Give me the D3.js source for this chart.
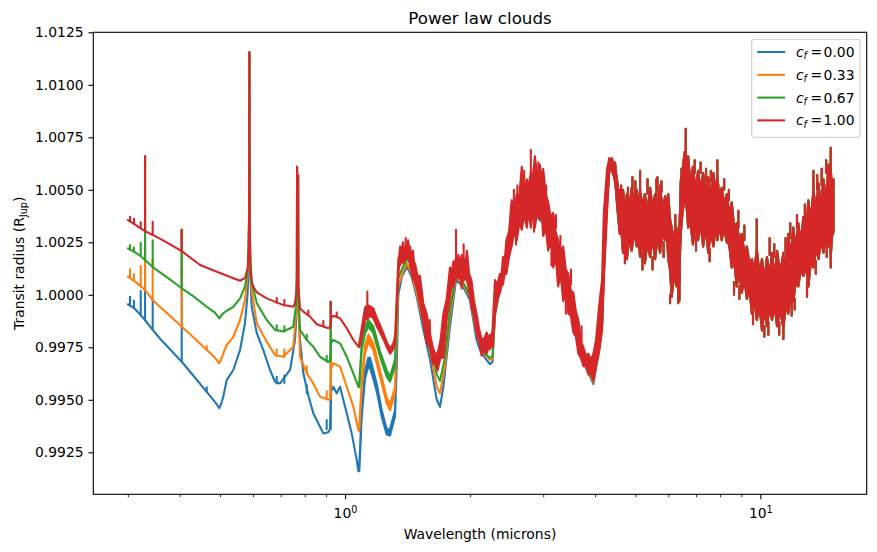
<!DOCTYPE html>
<html>
<head>
<meta charset="utf-8">
<script src="https://cdn.jsdelivr.net/npm/d3@7"></script>
<style>
  body { margin: 0; background: white; }
  text { font-family: "DejaVu Sans", sans-serif; }
</style>
</head>
<body>
<div id="chart"></div>
<script>
// Each point: [wavelength (microns), transit radius (R_Jup)]
// an optional third value is the top of the noisy band at that wavelength
const blueShort = [
  [0.300, 0.99955], [0.3100, 0.99938], [0.3200, 0.99910], [0.3300, 0.99880], [0.3443, 0.99833],
  [0.3600, 0.99787], [0.3800, 0.99738], [0.4044, 0.99681], [0.4300, 0.99618], [0.4645, 0.99538],
  [0.4863, 0.99490], [0.4982, 0.99460], [0.5030, 0.99480], [0.5093, 0.99515], [0.5189, 0.99594],
  [0.5383, 0.99642], [0.5588, 0.99737], [0.5742, 0.99864], [0.5829, 1.00007], [0.5860, 1.0015],
  [0.5875, 1.0035], [0.5880, 1.0060], [0.5885, 1.01155], [0.5890, 1.0060], [0.5895, 1.0030],
  [0.5915, 1.0010], [0.5960, 0.99943], [0.6131, 0.99817], [0.6357, 0.99737], [0.6598, 0.99642],
  [0.6783, 0.99586], [0.6975, 0.99578], [0.7374, 0.99642], [0.7578, 0.99785], [0.7640, 0.99900],
  [0.7658, 1.0005], [0.7665, 1.0061], [0.7672, 1.0005], [0.7703, 1.0002], [0.7710, 1.0057],
  [0.7717, 0.9998], [0.7791, 0.99785], [0.7937, 0.99626], [0.8160, 0.99520], [0.8387, 0.99436],
  [0.8705, 0.99372], [0.8867, 0.99340], [0.9115, 0.99345], [0.9200, 0.99360], [0.9260, 0.99540],
  [0.9371, 0.99562], [0.9550, 0.99531], [0.9727, 0.99562], [1.0095, 0.99436], [1.0378, 0.99340],
  [1.0670, 0.99213], [1.0767, 0.99160], [1.0825, 0.99160, 0.99200], [1.0970, 0.99420, 0.99450],
  [1.1172, 0.99600, 0.99640], [1.1380, 0.99660, 0.99700], [1.1487, 0.99650, 0.99700],
  [1.1698, 0.99600, 0.99640], [1.1922, 0.99540, 0.99575], [1.2257, 0.99420, 0.99450],
  [1.2600, 0.99335, 0.99360], [1.2834, 0.99330, 0.99360], [1.3194, 0.99420, 0.99450],
  [1.3319, 0.99658, 0.99700]
];
const blueMid = [
  [1.3437, 1.00000, 1.00030], [1.370, 1.00086], [1.409, 1.00134], [1.447, 1.00086], [1.488, 0.99991],
  [1.544, 0.99833], [1.602, 0.99690], [1.663, 0.99500], [1.693, 0.99467], [1.725, 0.99562],
  [1.789, 0.99848], [1.850, 1.00070], [1.923, 1.00039], [1.999, 0.99975], [2.073, 0.99785],
  [2.113, 0.99737], [2.172, 0.99700], [2.233, 0.99670], [2.265, 0.99680], [2.296, 0.99900],
  [2.360, 1.00030], [2.446, 1.00130], [2.518, 1.00280], [2.664, 1.00360], [2.865, 1.00380],
  [3.000, 1.00340], [3.171, 1.00200], [3.352, 1.00030], [3.546, 0.99870], [3.749, 0.99680],
  [3.854, 0.99630], [3.962, 0.99575], [4.074, 0.99720], [4.157, 0.99850], [4.198, 1.00100],
  [4.275, 1.00450]
];
const blueSpikes = [
  [0.3036, 0.99950, 0.99991], [0.3103, 0.99938, 0.99972], [0.3222, 0.99905, 1.00018],
  [0.3300, 0.99878, 1.0066], [0.3443, 0.99833, 0.99975], [0.4044, 0.99681, 1.0031],
  [0.4645, 0.99538, 0.99560], [0.6847, 0.99578, 0.99610], [0.7144, 0.99580, 0.99615],
  [0.8089, 0.99531, 0.99570], [0.9034, 0.99360, 0.99404], [0.9238, 0.99360, 0.99967]
];

const orangeShort = [
  [0.300, 1.00086], [0.3100, 1.00068], [0.3200, 1.00045], [0.3300, 1.00023], [0.3443, 0.99975],
  [0.3600, 0.99940], [0.3800, 0.99898], [0.4044, 0.99848], [0.4300, 0.99800], [0.4645, 0.99738],
  [0.4863, 0.99700], [0.4982, 0.99674], [0.5030, 0.99690], [0.5093, 0.99721], [0.5189, 0.99761],
  [0.5383, 0.99800], [0.5588, 0.99880], [0.5742, 0.99975], [0.5829, 1.00090], [0.5860, 1.0019],
  [0.5875, 1.0037], [0.5880, 1.0060], [0.5885, 1.01155], [0.5890, 1.0060], [0.5895, 1.0033],
  [0.5915, 1.0014], [0.5960, 1.00020], [0.6131, 0.99864], [0.6478, 0.99777], [0.6783, 0.99713],
  [0.7104, 0.99705], [0.7507, 0.99753], [0.7578, 0.99848], [0.7640, 0.99930], [0.7658, 1.0007],
  [0.7665, 1.0061], [0.7672, 1.0007], [0.7703, 1.0004], [0.7710, 1.0057], [0.7717, 1.0000],
  [0.7791, 0.99705], [0.8089, 0.99626], [0.8387, 0.99578], [0.8705, 0.99515], [0.9115, 0.99500],
  [0.9200, 0.99505], [0.9260, 0.99650], [0.9371, 0.99674], [0.9727, 0.99658], [1.0095, 0.99562],
  [1.0471, 0.99467], [1.0767, 0.99356], [1.0825, 0.99350, 0.99380], [1.0970, 0.99562, 0.99590],
  [1.1172, 0.99721, 0.99760], [1.1380, 0.99775, 0.99810], [1.1698, 0.99737, 0.99770],
  [1.2142, 0.99610, 0.99640], [1.2600, 0.99483, 0.99510], [1.2834, 0.99451, 0.99480],
  [1.3194, 0.99531, 0.99560], [1.3319, 0.99800, 0.99840]
];
const orangeMid = [
  [1.3437, 1.00040], [1.379, 1.00110], [1.409, 1.00150], [1.447, 1.00100], [1.488, 1.00007],
  [1.544, 0.99864], [1.602, 0.99737], [1.663, 0.99562], [1.693, 0.99531], [1.740, 0.99658],
  [1.789, 0.99896], [1.850, 1.00086], [1.923, 1.00050], [1.999, 0.99991], [2.073, 0.99817],
  [2.113, 0.99760], [2.172, 0.99715], [2.233, 0.99690], [2.265, 0.99695], [2.296, 0.99910],
  [2.360, 1.00035], [2.446, 1.00135], [2.518, 1.00285], [2.664, 1.00365], [2.865, 1.00385],
  [3.000, 1.00345], [3.171, 1.00205], [3.352, 1.00035], [3.546, 0.99875], [3.749, 0.99685],
  [3.854, 0.99635], [3.962, 0.99585], [4.074, 0.99725], [4.157, 0.99855], [4.198, 1.00105],
  [4.275, 1.00450]
];
const orangeSpikes = [
  [0.3036, 1.00080, 1.00121], [0.3103, 1.00068, 1.00098], [0.3222, 1.00045, 1.00137],
  [0.3300, 1.00023, 1.0066], [0.3443, 0.99975, 1.0017], [0.4044, 0.99848, 1.0031],
  [0.4645, 0.99738, 0.99755], [0.6847, 0.99710, 0.99740], [0.7144, 0.99705, 0.99740],
  [0.8089, 0.99626, 0.99660], [0.9034, 0.99507, 0.99540], [0.9238, 0.99505, 0.99967]
];

const greenShort = [
  [0.300, 1.00221], [0.3100, 1.00207], [0.3200, 1.00188], [0.3300, 1.00166], [0.3443, 1.00132],
  [0.3600, 1.00104], [0.3800, 1.00071], [0.4044, 1.00031], [0.4300, 0.99995], [0.4645, 0.99943],
  [0.4863, 0.99915], [0.4982, 0.99888], [0.5030, 0.99900], [0.5093, 0.99912], [0.5189, 0.99924],
  [0.5383, 0.99943], [0.5588, 0.99983], [0.5742, 1.00039], [0.5829, 1.00110], [0.5860, 1.0020],
  [0.5875, 1.0038], [0.5880, 1.0060], [0.5885, 1.01155], [0.5890, 1.0060], [0.5895, 1.0034],
  [0.5915, 1.0015], [0.5960, 1.00060], [0.6131, 0.99960], [0.6478, 0.99880], [0.6783, 0.99833],
  [0.7104, 0.99825], [0.7507, 0.99848], [0.7578, 0.99912], [0.7640, 0.99960], [0.7658, 1.0009],
  [0.7665, 1.0061], [0.7672, 1.0009], [0.7703, 1.0006], [0.7710, 1.0057], [0.7717, 1.0003],
  [0.7791, 0.99833], [0.8089, 0.99785], [0.8387, 0.99753], [0.8705, 0.99705], [0.9115, 0.99680],
  [0.9200, 0.99685], [0.9260, 0.99770], [0.9371, 0.99785], [0.9727, 0.99769], [1.0095, 0.99705],
  [1.0471, 0.99626], [1.0767, 0.99562], [1.0825, 0.99560, 0.99590], [1.0970, 0.99737, 0.99770],
  [1.1172, 0.99817, 0.99850], [1.1380, 0.99848, 0.99880], [1.1698, 0.99817, 0.99850],
  [1.2142, 0.99705, 0.99730], [1.2600, 0.99610, 0.99640], [1.2834, 0.99586, 0.99610],
  [1.3194, 0.99658, 0.99690], [1.3319, 0.99900, 0.99940]
];
const greenMid = [
  [1.3437, 1.00080], [1.379, 1.00134], [1.418, 1.00174], [1.447, 1.00130], [1.488, 1.00040],
  [1.544, 0.99900], [1.602, 0.99780], [1.663, 0.99620], [1.693, 0.99590], [1.740, 0.99700],
  [1.789, 0.99930], [1.850, 1.00100], [1.923, 1.00060], [1.999, 1.00000], [2.073, 0.99840],
  [2.113, 0.99780], [2.172, 0.99720], [2.233, 0.99700], [2.265, 0.99705], [2.296, 0.99920],
  [2.360, 1.00040], [2.446, 1.00140], [2.518, 1.00290], [2.664, 1.00370], [2.865, 1.00390],
  [3.000, 1.00350], [3.171, 1.00210], [3.352, 1.00040], [3.546, 0.99880], [3.749, 0.99690],
  [3.854, 0.99640], [3.962, 0.99595], [4.074, 0.99730], [4.157, 0.99860], [4.198, 1.00110],
  [4.275, 1.00450]
];
const greenSpikes = [
  [0.3036, 1.00215, 1.00237], [0.3103, 1.00205, 1.00225], [0.3222, 1.00188, 1.00248],
  [0.3300, 1.00166, 1.0066], [0.3443, 1.00132, 1.0026], [0.4044, 1.00031, 1.0031],
  [0.6847, 0.99830, 0.99855], [0.7144, 0.99825, 0.99850], [0.8089, 0.99785, 0.99810],
  [0.9034, 0.99681, 0.99710], [0.9238, 0.99685, 0.99967]
];

const redShort = [
  [0.300, 1.00356], [0.3100, 1.00339], [0.3200, 1.00320], [0.3300, 1.00303], [0.3443, 1.00285],
  [0.3600, 1.00265], [0.3800, 1.00239], [0.4044, 1.00208], [0.4476, 1.00142], [0.5000, 1.00104],
  [0.5383, 1.00079], [0.5588, 1.00067], [0.5742, 1.00080], [0.5829, 1.00125], [0.5860, 1.0022],
  [0.5875, 1.0040], [0.5880, 1.0060], [0.5885, 1.01155], [0.5890, 1.0060], [0.5895, 1.0035],
  [0.5915, 1.0016], [0.5960, 1.00060], [0.6014, 1.00039], [0.6131, 1.00012], [0.6478, 0.99983],
  [0.7104, 0.99951], [0.7507, 0.99943], [0.7578, 0.99960], [0.7640, 1.00020], [0.7658, 1.0011],
  [0.7665, 1.0061], [0.7672, 1.0011], [0.7703, 1.0008], [0.7710, 1.0057], [0.7717, 1.0005],
  [0.7791, 0.99935], [0.7937, 0.99920], [0.8235, 0.99896], [0.8548, 0.99860], [0.9115, 0.99841],
  [0.9200, 0.99845], [0.9260, 0.99890], [0.9371, 0.99900], [0.9727, 0.99888], [1.0095, 0.99841],
  [1.0471, 0.99785], [1.0767, 0.99753], [1.0825, 0.99750, 0.99770], [1.0970, 0.99800, 0.99840],
  [1.1172, 0.99880, 0.99940], [1.1380, 0.99890, 0.99950], [1.1487, 0.99900, 0.99945],
  [1.1698, 0.99890, 0.99935], [1.1922, 0.99850, 0.99890], [1.2142, 0.99820, 0.99855],
  [1.2400, 0.99785, 0.99810], [1.2600, 0.99750, 0.99775], [1.2834, 0.99720, 0.99745],
  [1.3050, 0.99740, 0.99765], [1.3194, 0.99770, 0.99800], [1.3319, 0.99950, 0.99990]
];
const redBand = [
  [1.344, 1.0010, 1.0017], [1.351, 1.0014, 1.0019], [1.357, 1.0014, 1.0023], [1.368, 1.0017, 1.0021],
  [1.379, 1.0015, 1.0025], [1.387, 1.0018, 1.0022], [1.395, 1.0016, 1.0022], [1.406, 1.0019, 1.0023],
  [1.418, 1.0017, 1.0026], [1.426, 1.0017, 1.0022], [1.434, 1.0014, 1.0023], [1.446, 1.0011, 1.0018],
  [1.458, 1.0007, 1.0021], [1.466, 1.0008, 1.0015], [1.474, 1.0006, 1.0015], [1.494, 1.0002, 1.0009],
  [1.515, 0.9996, 1.0009], [1.543, 0.9987, 0.9996], [1.572, 0.9977, 0.9991], [1.600, 0.9975, 0.9982],
  [1.627, 0.9967, 0.9975], [1.648, 0.9968, 0.9972], [1.670, 0.9964, 0.9972], [1.697, 0.9970, 0.9978],
  [1.725, 0.9970, 0.9991], [1.757, 0.9988, 0.9998], [1.789, 0.9999, 1.0013], [1.807, 1.0004, 1.0011],
  [1.825, 1.0004, 1.0016], [1.837, 1.0008, 1.0013], [1.850, 1.0007, 1.0018], [1.862, 1.0010, 1.0015],
  [1.874, 1.0008, 1.0019], [1.891, 1.0010, 1.0015], [1.909, 1.0003, 1.0019], [1.924, 1.0008, 1.0014],
  [1.939, 1.0007, 1.0017], [1.952, 1.0010, 1.0015], [1.965, 1.0007, 1.0021], [1.990, 1.0002, 1.0010],
  [2.015, 0.9994, 1.0007], [2.044, 0.9990, 0.9997], [2.073, 0.9982, 0.9991], [2.102, 0.9978, 0.9984],
  [2.132, 0.9971, 0.9979], [2.162, 0.9974, 0.9979], [2.193, 0.9972, 0.9982], [2.213, 0.9975, 0.9979],
  [2.233, 0.9974, 0.9981], [2.249, 0.9976, 0.9980], [2.265, 0.9975, 0.9983], [2.296, 0.9991, 1.0007],
  [2.328, 0.9998, 1.0005], [2.360, 1.0001, 1.0010], [2.380, 1.0004, 1.0009], [2.400, 1.0005, 1.0018],
  [2.423, 1.0010, 1.0016], [2.446, 1.0010, 1.0026], [2.482, 1.0018, 1.0030], [2.518, 1.0023, 1.0045],
  [2.555, 1.0030, 1.0040], [2.591, 1.0026, 1.0048], [2.628, 1.0034, 1.0047], [2.664, 1.0031, 1.0061],
  [2.702, 1.0038, 1.0050], [2.740, 1.0032, 1.0055], [2.770, 1.0040, 1.0052], [2.801, 1.0032, 1.0058],
  [2.833, 1.0040, 1.0056], [2.865, 1.0032, 1.0066], [2.905, 1.0040, 1.0056], [2.945, 1.0036, 1.0062],
  [2.972, 1.0040, 1.0055], [3.000, 1.0028, 1.0060], [3.042, 1.0032, 1.0048], [3.084, 1.0021, 1.0044],
  [3.127, 1.0026, 1.0037], [3.171, 1.0013, 1.0039], [3.215, 1.0018, 1.0030], [3.259, 1.0004, 1.0026],
  [3.305, 1.0010, 1.0021], [3.352, 0.9997, 1.0023], [3.400, 1.0000, 1.0012], [3.448, 0.9991, 1.0010],
  [3.497, 0.9990, 1.0002], [3.546, 0.9982, 1.0001], [3.596, 0.9980, 0.9992], [3.646, 0.9972, 0.9988],
  [3.697, 0.9970, 0.9978], [3.749, 0.9966, 0.9975], [3.801, 0.9966, 0.9971], [3.854, 0.9962, 0.9972],
  [3.908, 0.9963, 0.9969], [3.962, 0.9959, 0.9972], [4.018, 0.9966, 0.9978], [4.074, 0.9971, 0.9991],
  [4.106, 0.9975, 0.9998], [4.157, 0.9983, 1.0007], [4.198, 1.0007, 1.0039], [4.275, 1.0039, 1.0060]
];
const redSpikes = [
  [0.3036, 1.00349, 1.00372], [0.3103, 1.00338, 1.00362], [0.3222, 1.00318, 1.00345],
  [0.3300, 1.00303, 1.0066], [0.3443, 1.00285, 1.00348], [0.4044, 1.00208, 1.0031],
  [0.6847, 0.99962, 0.99985], [0.7144, 0.99950, 0.99975], [0.8160, 0.99905, 0.99925],
  [0.8867, 0.99850, 0.99875], [0.9238, 0.99845, 0.99967], [0.9550, 0.99896, 0.99915],
  [1.1317, 0.99930, 1.00015], [1.850, 1.0018, 1.0031], [2.801, 1.0058, 1.0069],
  [2.600, 1.0046, 1.0052], [3.220, 1.0032, 1.0038], [1.400, 1.0022, 1.0027], [1.600, 0.9982, 0.9988],
  [1.930, 1.0017, 1.0024], [2.550, 1.0040, 1.0050], [2.700, 1.0050, 1.0059], [2.920, 1.0056, 1.0063],
  [3.050, 1.0045, 1.0052], [3.300, 1.0021, 1.0028], [3.500, 1.0005, 1.0012], [3.710, 0.9978, 0.9985],
  [2.580, 1.0030, 1.0024], [2.850, 1.0036, 1.0030], [3.140, 1.0020, 1.0014], [3.400, 0.9997, 0.9991]
];

// beyond ~4.3 microns the cloud fraction makes no visible difference
const tailBand = [
  [4.330, 1.0060, 1.0065], [4.360, 1.0061, 1.0064], [4.390, 1.0059, 1.0065], [4.430, 1.0057, 1.0062],
  [4.468, 1.0054, 1.0063], [4.490, 1.0050, 1.0058], [4.510, 1.0045, 1.0056], [4.550, 1.0036, 1.0049],
  [4.588, 1.0029, 1.0050], [4.630, 1.0030, 1.0042], [4.670, 1.0020, 1.0050], [4.720, 1.0026, 1.0040],
  [4.770, 1.0017, 1.0048], [4.835, 1.0027, 1.0041], [4.900, 1.0021, 1.0051], [4.970, 1.0030, 1.0043],
  [5.040, 1.0023, 1.0050], [5.085, 1.0028, 1.0040], [5.133, 1.0018, 1.0050], [5.200, 1.0027, 1.0042],
  [5.270, 1.0015, 1.0048], [5.350, 1.0025, 1.0040], [5.426, 1.0018, 1.0051], [5.500, 1.0027, 1.0041],
  [5.580, 1.0017, 1.0048], [5.655, 1.0028, 1.0043], [5.735, 1.0020, 1.0052], [5.815, 1.0029, 1.0040],
  [5.900, 1.0026, 1.0047], [5.950, 1.0030, 1.0041], [6.000, 1.0017, 1.0048], [6.060, 1.0012, 1.0036],
  [6.117, 0.9999, 1.0032], [6.200, 1.0010, 1.0026], [6.280, 1.0004, 1.0032], [6.330, 1.0012, 1.0025],
  [6.381, 0.9997, 1.0032], [6.405, 1.0020, 1.0040], [6.430, 1.0029, 1.0054], [6.500, 1.0040, 1.0060],
  [6.570, 1.0045, 1.0068], [6.613, 1.0045, 1.0068], [6.655, 1.0040, 1.0058], [6.700, 1.0032, 1.0066],
  [6.790, 1.0034, 1.0052], [6.880, 1.0024, 1.0061], [6.980, 1.0033, 1.0050], [7.080, 1.0026, 1.0059],
  [7.180, 1.0034, 1.0050], [7.280, 1.0023, 1.0058], [7.385, 1.0032, 1.0048], [7.490, 1.0020, 1.0056],
  [7.600, 1.0030, 1.0047], [7.710, 1.0023, 1.0058], [7.795, 1.0032, 1.0049], [7.878, 1.0026, 1.0056],
  [7.975, 1.0033, 1.0046], [8.070, 1.0026, 1.0051], [8.185, 1.0032, 1.0043], [8.300, 1.0025, 1.0048],
  [8.415, 1.0024, 1.0038], [8.530, 1.0013, 1.0044], [8.650, 1.0016, 1.0032], [8.770, 1.0004, 1.0034],
  [8.895, 1.0011, 1.0026], [9.020, 1.0001, 1.0029], [9.150, 1.0008, 1.0020], [9.280, 0.9998, 1.0023],
  [9.410, 1.0003, 1.0015], [9.540, 0.9991, 1.0017], [9.670, 0.9998, 1.0011], [9.802, 0.9988, 1.0022],
  [9.945, 0.9995, 1.0010], [10.09, 0.9983, 1.0017], [10.23, 0.9993, 1.0007], [10.37, 0.9985, 1.0018],
  [10.52, 0.9994, 1.0009], [10.67, 0.9988, 1.0020], [10.82, 0.9995, 1.0008], [10.97, 0.9985, 1.0021],
  [11.16, 0.9993, 1.0010], [11.36, 0.9984, 1.0020], [11.51, 0.9995, 1.0012], [11.67, 0.9991, 1.0029],
  [11.83, 0.9999, 1.0018], [12.00, 0.9997, 1.0032], [12.17, 1.0006, 1.0022], [12.34, 1.0004, 1.0034],
  [12.51, 1.0012, 1.0025], [12.69, 1.0009, 1.0037], [12.87, 1.0014, 1.0030], [13.05, 1.0004, 1.0045],
  [13.23, 1.0016, 1.0035], [13.42, 1.0013, 1.0050], [13.61, 1.0022, 1.0040], [13.80, 1.0017, 1.0053],
  [14.00, 1.0026, 1.0042], [14.19, 1.0020, 1.0055], [14.39, 1.0028, 1.0045], [14.59, 1.0023, 1.0062],
  [14.68, 1.0030, 1.0050], [14.77, 1.0018, 1.0060], [14.88, 1.0028, 1.0050], [15.00, 1.0030, 1.0055]
];
const tailSpikes = [
  [4.920, 1.0050, 1.0056], [5.133, 1.0050, 1.0059], [5.350, 1.0048, 1.0055], [5.650, 1.0050, 1.0056],
  [6.240, 1.0030, 1.0038], [6.613, 1.0068, 1.0079], [7.180, 1.0058, 1.0063], [7.878, 1.0056, 1.0064],
  [8.180, 1.0050, 1.0055], [9.802, 1.0022, 1.0036], [10.53, 1.0019, 1.0027], [11.50, 1.0020, 1.0027],
  [13.42, 1.0050, 1.0059], [14.40, 1.0058, 1.0064], [14.77, 1.0060, 1.0070],
  [4.620, 1.0045, 1.0052], [4.800, 1.0045, 1.0051], [5.000, 1.0047, 1.0054], [5.620, 1.0047, 1.0055],
  [5.780, 1.0049, 1.0054], [6.460, 1.0052, 1.0060], [6.950, 1.0058, 1.0064], [7.400, 1.0054, 1.0060],
  [7.600, 1.0054, 1.0059], [8.400, 1.0045, 1.0050], [8.850, 1.0032, 1.0040], [9.150, 1.0026, 1.0033],
  [10.80, 1.0018, 1.0024], [11.80, 1.0027, 1.0034], [12.25, 1.0032, 1.0038], [12.80, 1.0035, 1.0043],
  [13.70, 1.0050, 1.0057], [14.05, 1.0052, 1.0060],
  [5.500, 1.0018, 1.0012], [6.060, 1.0000, 0.9996], [8.640, 1.0006, 1.0000], [10.22, 0.9985, 0.9980],
  [11.36, 0.9984, 0.9979], [12.10, 0.9998, 0.9993], [14.77, 1.0018, 1.0013], [4.720, 1.0022, 1.0015],
  [5.200, 1.0020, 1.0012], [5.850, 1.0025, 1.0018], [6.340, 1.0004, 0.9996], [7.000, 1.0028, 1.0021],
  [7.550, 1.0022, 1.0016], [8.900, 1.0004, 0.9998], [9.600, 0.9992, 0.9986], [10.45, 0.9987, 0.9981],
  [11.10, 0.9987, 0.9981], [11.90, 0.9998, 0.9990], [12.95, 1.0006, 0.9999], [13.60, 1.0016, 1.0010],
  [14.45, 1.0025, 1.0018]
];

const labels = ['0.00', '0.33', '0.67', '1.00'];
const colors = ['#1f77b4', '#ff7f0e', '#2ca02c', '#d62728'];
const yTicks = [0.9925, 0.9950, 0.9975, 1.0000, 1.0025, 1.0050, 1.0075, 1.0100, 1.0125];
const xMajorTicks = [1, 10];
const xMinorTicks = [0.3, 0.4, 0.5, 0.6, 0.7, 0.8, 0.9, 2, 3, 4, 5, 6, 7, 8, 9];
const xDomain = [0.2477, 18.03];
const yDomain = [0.9905, 1.0125];

const series = [
  {points: blueShort.concat(blueMid, tailBand), spikes: blueSpikes.concat(tailSpikes)},
  {points: orangeShort.concat(orangeMid, tailBand), spikes: orangeSpikes.concat(tailSpikes)},
  {points: greenShort.concat(greenMid, tailBand), spikes: greenSpikes.concat(tailSpikes)},
  {points: redShort.concat(redBand, tailBand), spikes: redSpikes.concat(tailSpikes)}
];

let width = 877, height = 552;
let margin = {top: 32.3, right: 10.3, bottom: 57.7, left: 93.3};
const fontSize = 13.9;
const lineWidth = 2.08;

let svg = d3.select('#chart')
  .append('svg')
  .attr('width', width)
  .attr('height', height)
  .style('background', 'white');

let x = d3.scaleLog()
  .domain(xDomain)
  .range([margin.left, width - margin.right]);

let y = d3.scaleLinear()
  .domain(yDomain)
  .range([height - margin.bottom, margin.top]);

// the spectra: a band between low and high values, drawn with its own outline
const area = d3.area()
  .x(d => x(d[0]))
  .y0(d => y(d[1]))
  .y1(d => y(d.length > 2 ? d[2] : d[1]));

series.forEach((s, i) => {
  svg.append('path')
    .datum(s.points)
    .attr('d', area)
    .attr('fill', colors[i])
    .attr('stroke', colors[i])
    .attr('stroke-width', lineWidth)
    .attr('stroke-linejoin', 'round');

  svg.append('g')
    .selectAll('line')
    .data(s.spikes)
    .enter()
    .append('line')
    .attr('x1', d => x(d[0]))
    .attr('x2', d => x(d[0]))
    .attr('y1', d => y(d[1]))
    .attr('y2', d => y(d[2]))
    .attr('stroke', colors[i])
    .attr('stroke-width', lineWidth)
    .attr('stroke-linecap', 'round');
});

// y axis
let yAxis = svg.append('g')
  .attr('transform', `translate(${margin.left},0)`)
  .call(d3.axisLeft(y).tickValues(yTicks).tickFormat(d3.format('.4f')).tickSize(4.86).tickPadding(4.86));
yAxis.select('.domain').remove();
yAxis.selectAll('.tick line').attr('stroke', 'black').attr('stroke-width', 1.1);
yAxis.selectAll('.tick text').attr('font-size', fontSize).attr('fill', 'black')
  .style('font-family', '"DejaVu Sans", sans-serif');

// x axis, major ticks with 10^n labels
let xAxis = svg.append('g')
  .attr('transform', `translate(0,${height - margin.bottom})`)
  .call(d3.axisBottom(x).tickValues(xMajorTicks).tickFormat(() => '').tickSize(4.86).tickPadding(8.5));
xAxis.select('.domain').remove();
xAxis.selectAll('.tick line').attr('stroke', 'black').attr('stroke-width', 1.1);
xAxis.selectAll('.tick text')
  .attr('font-size', fontSize).attr('fill', 'black')
  .style('font-family', '"DejaVu Sans", sans-serif')
  .text('10')
  .append('tspan')
  .attr('dy', '-0.45em')
  .attr('font-size', 9.7)
  .text(d => Math.round(Math.log10(d)));

// x axis, minor ticks
let xMinor = svg.append('g')
  .attr('transform', `translate(0,${height - margin.bottom})`)
  .call(d3.axisBottom(x).tickValues(xMinorTicks).tickFormat(() => '').tickSize(2.78));
xMinor.select('.domain').remove();
xMinor.selectAll('.tick line').attr('stroke', 'black').attr('stroke-width', 0.83);

// frame
svg.append('rect')
  .attr('x', margin.left)
  .attr('y', margin.top)
  .attr('width', width - margin.left - margin.right)
  .attr('height', height - margin.top - margin.bottom)
  .attr('fill', 'none')
  .attr('stroke', 'black')
  .attr('stroke-width', 1.1);

// title and axis labels
svg.append('text')
  .attr('x', (margin.left + width - margin.right) / 2)
  .attr('y', 24)
  .attr('text-anchor', 'middle')
  .attr('font-size', 16.7)
  .text('Power law clouds');

svg.append('text')
  .attr('x', (margin.left + width - margin.right) / 2)
  .attr('y', 539)
  .attr('text-anchor', 'middle')
  .attr('font-size', fontSize)
  .text('Wavelength (microns)');

let yLabel = svg.append('text')
  .attr('x', -(margin.top + height - margin.bottom) / 2)
  .attr('y', 23.5)
  .attr('transform', 'rotate(-90)')
  .attr('text-anchor', 'middle')
  .attr('font-size', fontSize);
yLabel.append('tspan').text('Transit radius (R');
yLabel.append('tspan').attr('font-size', 9.7).attr('dy', 3).text('Jup');
yLabel.append('tspan').attr('dy', -3).text(')');

// legend
const legend = svg.append('g')
  .attr('transform', `translate(751.7, 39.2)`);

legend.append('rect')
  .attr('width', 108.3)
  .attr('height', 98)
  .attr('rx', 2.8)
  .attr('fill', 'white')
  .attr('fill-opacity', 0.8)
  .attr('stroke', '#cccccc')
  .attr('stroke-width', 1.1);

labels.forEach((label, i) => {
  const cy = 12.8 + i * 22.8;
  legend.append('line')
    .attr('x1', 5.6)
    .attr('x2', 33.4)
    .attr('y1', cy)
    .attr('y2', cy)
    .attr('stroke', colors[i])
    .attr('stroke-width', lineWidth);

  const t = legend.append('text')
    .attr('x', 44.2)
    .attr('y', cy + 5)
    .attr('font-size', fontSize);
  t.append('tspan').attr('font-style', 'italic').text('c');
  t.append('tspan').attr('font-style', 'italic').attr('font-size', 9.7).attr('dy', 2.5).text('f');
  t.append('tspan').attr('dy', -2.5).attr('dx', 3.5).text('=');
  t.append('tspan').attr('dx', 1.5).text(label);
});
</script>
</body>
</html>
